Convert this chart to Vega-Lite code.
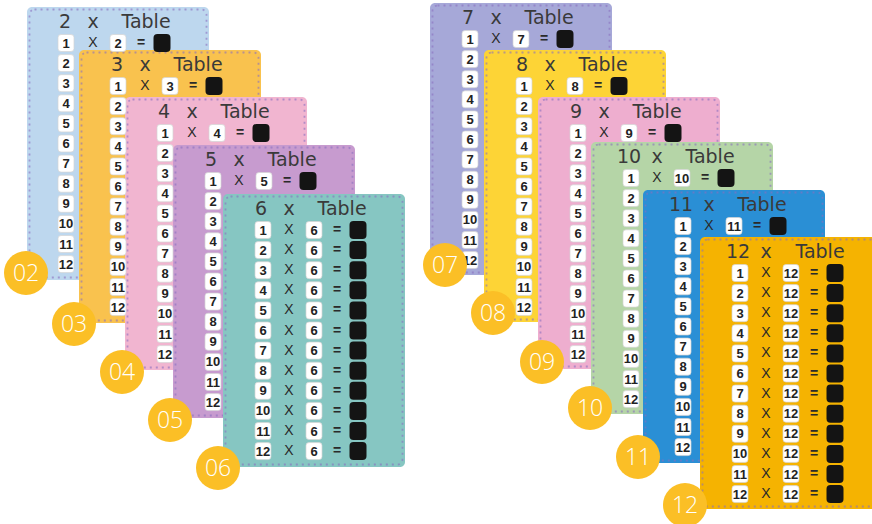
{
  "$schema": "https://vega.github.io/schema/vega-lite/v6.json",
  "width": 872,
  "height": 524,
  "autosize": {"type": "none"},
  "padding": 0,
  "background": "white",
  "config": {"view": {"stroke": null}},
  "datasets": {
    "cards": [
      {"k":2,"kind":"card","x":27,"y":7,"x2":209,"y2":280},
      {"k":2,"kind":"dots","x":29.5,"y":9.5,"x2":206.5,"y2":277.5},
      {"k":3,"kind":"card","x":79,"y":50,"x2":261,"y2":323},
      {"k":3,"kind":"dots","x":81.5,"y":52.5,"x2":258.5,"y2":320.5},
      {"k":4,"kind":"card","x":125,"y":97,"x2":307,"y2":370},
      {"k":4,"kind":"dots","x":127.5,"y":99.5,"x2":304.5,"y2":367.5},
      {"k":5,"kind":"card","x":173,"y":145,"x2":355,"y2":418},
      {"k":5,"kind":"dots","x":175.5,"y":147.5,"x2":352.5,"y2":415.5},
      {"k":6,"kind":"card","x":223,"y":194,"x2":405,"y2":467},
      {"k":6,"kind":"dots","x":225.5,"y":196.5,"x2":402.5,"y2":464.5},
      {"k":7,"kind":"card","x":430,"y":3,"x2":612,"y2":275},
      {"k":7,"kind":"dots","x":432.5,"y":5.5,"x2":609.5,"y2":272.5},
      {"k":8,"kind":"card","x":484,"y":50,"x2":666,"y2":322},
      {"k":8,"kind":"dots","x":486.5,"y":52.5,"x2":663.5,"y2":319.5},
      {"k":9,"kind":"card","x":538,"y":97,"x2":720,"y2":369},
      {"k":9,"kind":"dots","x":540.5,"y":99.5,"x2":717.5,"y2":366.5},
      {"k":10,"kind":"card","x":591,"y":142,"x2":773,"y2":414},
      {"k":10,"kind":"dots","x":593.5,"y":144.5,"x2":770.5,"y2":411.5},
      {"k":11,"kind":"card","x":643,"y":190,"x2":825,"y2":463},
      {"k":11,"kind":"dots","x":645.5,"y":192.5,"x2":822.5,"y2":460.5},
      {"k":12,"kind":"card","x":700,"y":237,"x2":882,"y2":509},
      {"k":12,"kind":"dots","x":702.5,"y":239.5,"x2":879.5,"y2":506.5}
    ],
    "rows": [
      {"c":2,"i":1,"y":43,"a":66,"o":93,"b":118,"e":141,"n":162},
      {"c":2,"i":2,"y":63.1,"a":66},{"c":2,"i":3,"y":83.2,"a":66},{"c":2,"i":4,"y":103.3,"a":66},
      {"c":2,"i":5,"y":123.4,"a":66},{"c":2,"i":6,"y":143.5,"a":66},{"c":2,"i":7,"y":163.6,"a":66},
      {"c":2,"i":8,"y":183.7,"a":66},{"c":2,"i":9,"y":203.8,"a":66},{"c":2,"i":10,"y":223.9,"a":66},
      {"c":2,"i":11,"y":244,"a":66},{"c":2,"i":12,"y":264.1,"a":66},
      {"c":3,"i":1,"y":86,"a":118,"o":145,"b":170,"e":193,"n":214},
      {"c":3,"i":2,"y":106.1,"a":118},{"c":3,"i":3,"y":126.2,"a":118},{"c":3,"i":4,"y":146.3,"a":118},
      {"c":3,"i":5,"y":166.4,"a":118},{"c":3,"i":6,"y":186.5,"a":118},{"c":3,"i":7,"y":206.6,"a":118},
      {"c":3,"i":8,"y":226.7,"a":118},{"c":3,"i":9,"y":246.8,"a":118},{"c":3,"i":10,"y":266.9,"a":118},
      {"c":3,"i":11,"y":287,"a":118},{"c":3,"i":12,"y":307.1,"a":118},
      {"c":4,"i":1,"y":133,"a":165,"o":192,"b":217,"e":240,"n":261},
      {"c":4,"i":2,"y":153.1,"a":165},{"c":4,"i":3,"y":173.2,"a":165},{"c":4,"i":4,"y":193.3,"a":165},
      {"c":4,"i":5,"y":213.4,"a":165},{"c":4,"i":6,"y":233.5,"a":165},{"c":4,"i":7,"y":253.6,"a":165},
      {"c":4,"i":8,"y":273.7,"a":165},{"c":4,"i":9,"y":293.8,"a":165},{"c":4,"i":10,"y":313.9,"a":165},
      {"c":4,"i":11,"y":334,"a":165},{"c":4,"i":12,"y":354.1,"a":165},
      {"c":5,"i":1,"y":181,"a":213,"o":239,"b":264,"e":287,"n":308},
      {"c":5,"i":2,"y":201.1,"a":213},{"c":5,"i":3,"y":221.2,"a":213},{"c":5,"i":4,"y":241.3,"a":213},
      {"c":5,"i":5,"y":261.4,"a":213},{"c":5,"i":6,"y":281.5,"a":213},{"c":5,"i":7,"y":301.6,"a":213},
      {"c":5,"i":8,"y":321.7,"a":213},{"c":5,"i":9,"y":341.8,"a":213},{"c":5,"i":10,"y":361.9,"a":213},
      {"c":5,"i":11,"y":382,"a":213},{"c":5,"i":12,"y":402.1,"a":213},
      {"c":6,"i":1,"y":230,"a":263,"o":289,"b":314,"e":337,"n":358},
      {"c":6,"i":2,"y":250.1,"a":263,"o":289,"b":314,"e":337,"n":358},
      {"c":6,"i":3,"y":270.2,"a":263,"o":289,"b":314,"e":337,"n":358},
      {"c":6,"i":4,"y":290.3,"a":263,"o":289,"b":314,"e":337,"n":358},
      {"c":6,"i":5,"y":310.4,"a":263,"o":289,"b":314,"e":337,"n":358},
      {"c":6,"i":6,"y":330.5,"a":263,"o":289,"b":314,"e":337,"n":358},
      {"c":6,"i":7,"y":350.6,"a":263,"o":289,"b":314,"e":337,"n":358},
      {"c":6,"i":8,"y":370.7,"a":263,"o":289,"b":314,"e":337,"n":358},
      {"c":6,"i":9,"y":390.8,"a":263,"o":289,"b":314,"e":337,"n":358},
      {"c":6,"i":10,"y":410.9,"a":263,"o":289,"b":314,"e":337,"n":358},
      {"c":6,"i":11,"y":431,"a":263,"o":289,"b":314,"e":337,"n":358},
      {"c":6,"i":12,"y":451.1,"a":263,"o":289,"b":314,"e":337,"n":358},
      {"c":7,"i":1,"y":39,"a":470,"o":496,"b":521,"e":544,"n":565},
      {"c":7,"i":2,"y":59.1,"a":470},{"c":7,"i":3,"y":79.2,"a":470},{"c":7,"i":4,"y":99.3,"a":470},
      {"c":7,"i":5,"y":119.4,"a":470},{"c":7,"i":6,"y":139.5,"a":470},{"c":7,"i":7,"y":159.6,"a":470},
      {"c":7,"i":8,"y":179.7,"a":470},{"c":7,"i":9,"y":199.8,"a":470},{"c":7,"i":10,"y":219.9,"a":470},
      {"c":7,"i":11,"y":240,"a":470},{"c":7,"i":12,"y":260.1,"a":470},
      {"c":8,"i":1,"y":86,"a":524,"o":550,"b":575,"e":598,"n":619},
      {"c":8,"i":2,"y":106.1,"a":524},{"c":8,"i":3,"y":126.2,"a":524},{"c":8,"i":4,"y":146.3,"a":524},
      {"c":8,"i":5,"y":166.4,"a":524},{"c":8,"i":6,"y":186.5,"a":524},{"c":8,"i":7,"y":206.6,"a":524},
      {"c":8,"i":8,"y":226.7,"a":524},{"c":8,"i":9,"y":246.8,"a":524},{"c":8,"i":10,"y":266.9,"a":524},
      {"c":8,"i":11,"y":287,"a":524},{"c":8,"i":12,"y":307.1,"a":524},
      {"c":9,"i":1,"y":133,"a":578,"o":604,"b":629,"e":652,"n":673},
      {"c":9,"i":2,"y":153.1,"a":578},{"c":9,"i":3,"y":173.2,"a":578},{"c":9,"i":4,"y":193.3,"a":578},
      {"c":9,"i":5,"y":213.4,"a":578},{"c":9,"i":6,"y":233.5,"a":578},{"c":9,"i":7,"y":253.6,"a":578},
      {"c":9,"i":8,"y":273.7,"a":578},{"c":9,"i":9,"y":293.8,"a":578},{"c":9,"i":10,"y":313.9,"a":578},
      {"c":9,"i":11,"y":334,"a":578},{"c":9,"i":12,"y":354.1,"a":578},
      {"c":10,"i":1,"y":178,"a":631,"o":657,"b":682,"e":705,"n":726},
      {"c":10,"i":2,"y":198.1,"a":631},{"c":10,"i":3,"y":218.2,"a":631},{"c":10,"i":4,"y":238.3,"a":631},
      {"c":10,"i":5,"y":258.4,"a":631},{"c":10,"i":6,"y":278.5,"a":631},{"c":10,"i":7,"y":298.6,"a":631},
      {"c":10,"i":8,"y":318.7,"a":631},{"c":10,"i":9,"y":338.8,"a":631},{"c":10,"i":10,"y":358.9,"a":631},
      {"c":10,"i":11,"y":379,"a":631},{"c":10,"i":12,"y":399.1,"a":631},
      {"c":11,"i":1,"y":226,"a":683,"o":709,"b":734,"e":757,"n":778},
      {"c":11,"i":2,"y":246.1,"a":683},{"c":11,"i":3,"y":266.2,"a":683},{"c":11,"i":4,"y":286.3,"a":683},
      {"c":11,"i":5,"y":306.4,"a":683},{"c":11,"i":6,"y":326.5,"a":683},{"c":11,"i":7,"y":346.6,"a":683},
      {"c":11,"i":8,"y":366.7,"a":683},{"c":11,"i":9,"y":386.8,"a":683},{"c":11,"i":10,"y":406.9,"a":683},
      {"c":11,"i":11,"y":427,"a":683},{"c":11,"i":12,"y":447.1,"a":683},
      {"c":12,"i":1,"y":273,"a":740,"o":766,"b":791,"e":814,"n":835},
      {"c":12,"i":2,"y":293.1,"a":740,"o":766,"b":791,"e":814,"n":835},
      {"c":12,"i":3,"y":313.2,"a":740,"o":766,"b":791,"e":814,"n":835},
      {"c":12,"i":4,"y":333.3,"a":740,"o":766,"b":791,"e":814,"n":835},
      {"c":12,"i":5,"y":353.4,"a":740,"o":766,"b":791,"e":814,"n":835},
      {"c":12,"i":6,"y":373.5,"a":740,"o":766,"b":791,"e":814,"n":835},
      {"c":12,"i":7,"y":393.6,"a":740,"o":766,"b":791,"e":814,"n":835},
      {"c":12,"i":8,"y":413.7,"a":740,"o":766,"b":791,"e":814,"n":835},
      {"c":12,"i":9,"y":433.8,"a":740,"o":766,"b":791,"e":814,"n":835},
      {"c":12,"i":10,"y":453.9,"a":740,"o":766,"b":791,"e":814,"n":835},
      {"c":12,"i":11,"y":474,"a":740,"o":766,"b":791,"e":814,"n":835},
      {"c":12,"i":12,"y":494.1,"a":740,"o":766,"b":791,"e":814,"n":835}
    ],
    "titles": [
      {"c":2,"y":22,"p":65,"q":93,"r":146},
      {"c":3,"y":65,"p":117,"q":145,"r":198},
      {"c":4,"y":112,"p":164,"q":192,"r":245},
      {"c":5,"y":160,"p":211,"q":239,"r":292},
      {"c":6,"y":209,"p":261,"q":289,"r":342},
      {"c":7,"y":18,"p":468,"q":496,"r":549},
      {"c":8,"y":65,"p":522,"q":550,"r":603},
      {"c":9,"y":112,"p":576,"q":604,"r":657},
      {"c":10,"y":157,"p":629,"q":657,"r":710},
      {"c":11,"y":205,"p":681,"q":709,"r":762},
      {"c":12,"y":252,"p":738,"q":766,"r":820}
    ],
    "badges": [
      {"lab":"02","x":26,"y":273},
      {"lab":"03","x":74,"y":324},
      {"lab":"04","x":122,"y":372},
      {"lab":"05","x":170,"y":420},
      {"lab":"06","x":218,"y":468},
      {"lab":"07","x":445,"y":265},
      {"lab":"08","x":493,"y":313},
      {"lab":"09","x":542,"y":362},
      {"lab":"10","x":590,"y":408},
      {"lab":"11","x":638,"y":457},
      {"lab":"12","x":685,"y":505}
    ]
  },
  "layer": [
    {
      "data": {"name": "cards"},
      "mark": {"type": "rect", "cornerRadius": 5, "strokeWidth": 1.8, "strokeOpacity": 0.6, "strokeDash": [2, 4]},
      "encoding": {
        "x": {"field": "x", "type": "quantitative", "scale": {"domain": [0, 872], "nice": false, "zero": false}, "axis": null},
        "x2": {"field": "x2"},
        "y": {"field": "y", "type": "quantitative", "scale": {"domain": [0, 524], "reverse": true, "nice": false, "zero": false}, "axis": null},
        "y2": {"field": "y2"},
        "fill": {
          "condition": {"test": "datum.kind === 'dots'", "value": "transparent"},
          "field": "k", "type": "nominal",
          "scale": {"domain": [2,3,4,5,6,7,8,9,10,11,12],
                    "range": ["#bdd7ee","#f9c24e","#f1b5d0","#c79bcf","#86c6c2","#a6a8d8","#fdd436","#eeaecf","#b5d5a7","#2a8fd5","#f5b301"]},
          "legend": null
        },
        "stroke": {
          "field": "kind", "type": "nominal",
          "scale": {"domain": ["card","dots"], "range": ["rgba(0,0,0,0)","#8a6fbf"]},
          "legend": null
        }
      }
    },
    {
      "data": {"name": "titles"},
      "mark": {"type": "text", "font": "DejaVu Sans", "fontSize": 19, "color": "#3a3a3a", "baseline": "middle", "align": "center"},
      "encoding": {
        "x": {"field": "p", "type": "quantitative"},
        "y": {"field": "y", "type": "quantitative"},
        "text": {"field": "c", "type": "nominal"}
      }
    },
    {
      "data": {"name": "titles"},
      "mark": {"type": "text", "font": "DejaVu Sans", "fontSize": 19, "color": "#3a3a3a", "baseline": "middle", "align": "center"},
      "encoding": {
        "x": {"field": "q", "type": "quantitative"},
        "y": {"field": "y", "type": "quantitative"},
        "text": {"value": "x"}
      }
    },
    {
      "data": {"name": "titles"},
      "mark": {"type": "text", "font": "DejaVu Sans", "fontSize": 19, "color": "#3a3a3a", "baseline": "middle", "align": "center"},
      "encoding": {
        "x": {"field": "r", "type": "quantitative"},
        "y": {"field": "y", "type": "quantitative"},
        "text": {"value": "Table"}
      }
    },
    {
      "data": {"name": "rows"},
      "mark": {"type": "point", "filled": true, "fill": "white", "stroke": "#d4d4d4", "strokeWidth": 0.7, "opacity": 1, "size": 256,
               "shape": "M-0.625,-1.0625L0.625,-1.0625Q1,-1.0625 1,-0.6875L1,0.6875Q1,1.0625 0.625,1.0625L-0.625,1.0625Q-1,1.0625 -1,0.6875L-1,-0.6875Q-1,-1.0625 -0.625,-1.0625Z"},
      "encoding": {
        "x": {"field": "a", "type": "quantitative"},
        "y": {"field": "y", "type": "quantitative"}
      }
    },
    {
      "data": {"name": "rows"},
      "transform": [{"filter": "isValid(datum.b)"}],
      "mark": {"type": "point", "filled": true, "fill": "white", "stroke": "#d4d4d4", "strokeWidth": 0.7, "opacity": 1, "size": 256,
               "shape": "M-0.625,-1.0625L0.625,-1.0625Q1,-1.0625 1,-0.6875L1,0.6875Q1,1.0625 0.625,1.0625L-0.625,1.0625Q-1,1.0625 -1,0.6875L-1,-0.6875Q-1,-1.0625 -0.625,-1.0625Z"},
      "encoding": {
        "x": {"field": "b", "type": "quantitative"},
        "y": {"field": "y", "type": "quantitative"}
      }
    },
    {
      "data": {"name": "rows"},
      "transform": [{"filter": "isValid(datum.n)"}],
      "mark": {"type": "point", "filled": true, "fill": "#141414", "opacity": 1, "size": 289,
               "shape": "M-0.53,-1.0588L0.53,-1.0588Q1,-1.0588 1,-0.5888L1,0.5888Q1,1.0588 0.53,1.0588L-0.53,1.0588Q-1,1.0588 -1,0.5888L-1,-0.5888Q-1,-1.0588 -0.53,-1.0588Z"},
      "encoding": {
        "x": {"field": "n", "type": "quantitative"},
        "y": {"field": "y", "type": "quantitative"}
      }
    },
    {
      "data": {"name": "rows"},
      "mark": {"type": "text", "font": "Liberation Sans", "fontSize": 13, "fontWeight": "bold", "color": "#222222", "baseline": "middle", "align": "center", "dy": 0.5},
      "encoding": {
        "x": {"field": "a", "type": "quantitative"},
        "y": {"field": "y", "type": "quantitative"},
        "text": {"field": "i", "type": "nominal"}
      }
    },
    {
      "data": {"name": "rows"},
      "transform": [{"filter": "isValid(datum.b)"}],
      "mark": {"type": "text", "font": "Liberation Sans", "fontSize": 13, "fontWeight": "bold", "color": "#222222", "baseline": "middle", "align": "center", "dy": 0.5},
      "encoding": {
        "x": {"field": "b", "type": "quantitative"},
        "y": {"field": "y", "type": "quantitative"},
        "text": {"field": "c", "type": "nominal"}
      }
    },
    {
      "data": {"name": "rows"},
      "transform": [{"filter": "isValid(datum.o)"}],
      "mark": {"type": "text", "font": "Liberation Sans", "fontSize": 14, "color": "#2a2a2a", "baseline": "middle", "align": "center"},
      "encoding": {
        "x": {"field": "o", "type": "quantitative"},
        "y": {"field": "y", "type": "quantitative"},
        "text": {"value": "X"}
      }
    },
    {
      "data": {"name": "rows"},
      "transform": [{"filter": "isValid(datum.e)"}],
      "mark": {"type": "text", "font": "Liberation Sans", "fontSize": 14, "fontWeight": "bold", "color": "#2a2a2a", "baseline": "middle", "align": "center"},
      "encoding": {
        "x": {"field": "e", "type": "quantitative"},
        "y": {"field": "y", "type": "quantitative"},
        "text": {"value": "="}
      }
    },
    {
      "data": {"name": "badges"},
      "mark": {"type": "point", "shape": "circle", "filled": true, "fill": "#fbbf26", "opacity": 1, "size": 1936},
      "encoding": {
        "x": {"field": "x", "type": "quantitative"},
        "y": {"field": "y", "type": "quantitative"}
      }
    },
    {
      "data": {"name": "badges"},
      "mark": {"type": "text", "font": "Open Sans", "fontSize": 23, "fontWeight": 300, "color": "white", "baseline": "middle", "align": "center", "dy": 1},
      "encoding": {
        "x": {"field": "x", "type": "quantitative"},
        "y": {"field": "y", "type": "quantitative"},
        "text": {"field": "lab", "type": "nominal"}
      }
    }
  ]
}
